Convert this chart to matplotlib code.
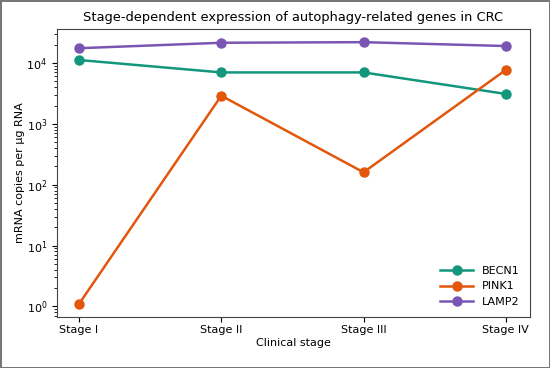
import matplotlib
matplotlib.use("Agg")
import matplotlib.pyplot as plt

stages = ["Stage I", "Stage II", "Stage III", "Stage IV"]
becn1 = [11200, 7000, 7000, 3100]
pink1 = [1.1, 2900, 160, 7700]
lamp2 = [17500, 21500, 22000, 19000]

colors = {"BECN1": "#12977c", "PINK1": "#e2570c", "LAMP2": "#7a56b3"}

fig = plt.figure(figsize=(5.5, 3.68), dpi=100)
fig.patch.set_edgecolor("#777777")
fig.patch.set_linewidth(2)
ax = fig.add_axes([0.1036, 0.1386, 0.8600, 0.7824])

x = list(range(len(stages)))
for name, vals in [("BECN1", becn1), ("PINK1", pink1), ("LAMP2", lamp2)]:
    ax.plot(x, vals, marker="o", markersize=6.5, linewidth=1.8, color=colors[name], label=name)

ax.set_yscale("log")
ax.set_xlim(-0.155, 3.17)
ax.set_xticks(x)
ax.set_xticklabels(stages, fontsize=8)
ax.tick_params(axis="y", labelsize=8)
ax.tick_params(axis="x", pad=2.5)
ax.set_xlabel("Clinical stage", fontsize=8, labelpad=2)
ax.set_ylabel("mRNA copies per µg RNA", fontsize=8, labelpad=1)
ax.set_title("Stage-dependent expression of autophagy-related genes in CRC", fontsize=9.4)
ax.legend(loc="lower right", fontsize=8, frameon=False, handlelength=3.0)
for s in ax.spines.values():
    s.set_color("#444444")

fig.savefig("out.png", dpi=100, edgecolor=fig.get_edgecolor())
